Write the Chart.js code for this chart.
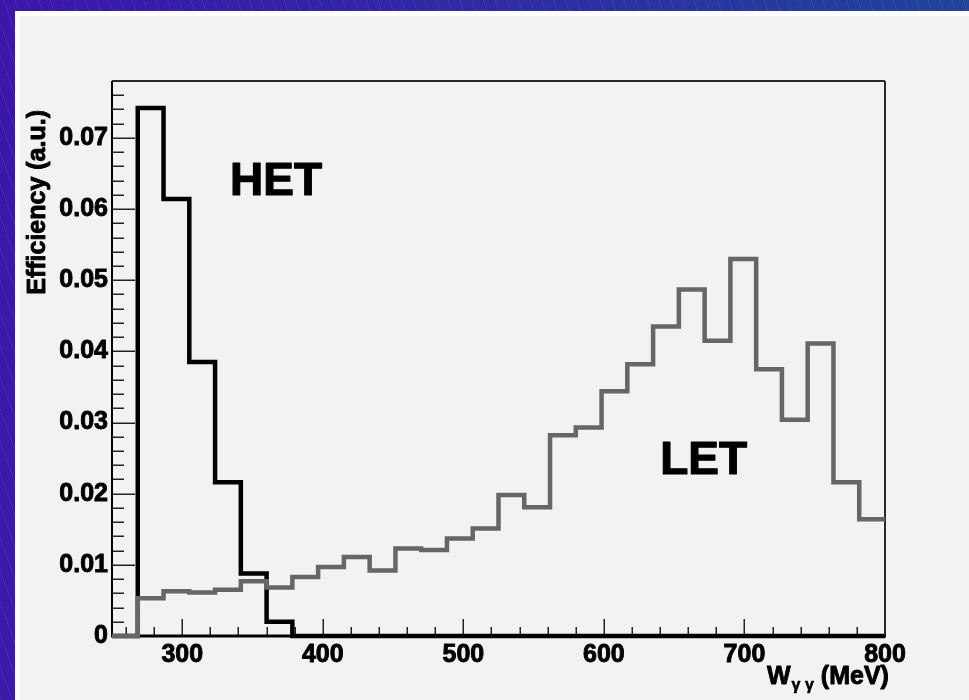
<!DOCTYPE html>
<html>
<head>
<meta charset="utf-8">
<title>Efficiency vs W</title>
<script src="https://cdn.jsdelivr.net/npm/chart.js@4.4.1/dist/chart.umd.min.js"></script>
<style>
  html, body { margin: 0; padding: 0; }
  body {
    position: relative;
    width: 969px;
    height: 700px;
    overflow: hidden;
    background:
      repeating-linear-gradient(70deg, rgba(255,255,255,0.07) 0 1px, transparent 1px 11px),
      linear-gradient(100deg, #3b16ab 0%, #2f2aa4 45%, #1c4a97 100%);
  }
  #panel {
    position: absolute;
    left: 15px;
    top: 11px;
    width: 954px;
    height: 689px;
    background: #ffffff;
  }
  #chart-wrap {
    position: absolute;
    left: 5px;
    top: 5px;
    width: 949px;
    height: 684px;
    background: #f2f2f2;
  }
</style>
</head>
<body>
<div id="panel">
  <div id="chart-wrap">
    <canvas id="effChart" width="949" height="684"></canvas>
  </div>
</div>

<script>
// Histogram range: 30 equal bins between 250 and 800 MeV
const xMin = 250;
const xMax = 800;
const yMax = 0.078;

// Bin contents, one per bin from low to high W
const hetEff = [
  0, 0.0742, 0.0614, 0.0385, 0.0216, 0.0088, 0.0020, 0, 0, 0,
  0, 0, 0, 0, 0, 0, 0, 0, 0, 0,
  0, 0, 0, 0, 0, 0, 0, 0, 0, 0
];
const letEff = [
  0, 0.0053, 0.0063, 0.0061, 0.0065, 0.0077, 0.0068, 0.0083, 0.0097, 0.0111,
  0.0092, 0.0123, 0.0121, 0.0137, 0.0151, 0.0198, 0.0181, 0.0282, 0.0293, 0.0344,
  0.0382, 0.0435, 0.0487, 0.0415, 0.0530, 0.0375, 0.0304, 0.0411, 0.0216, 0.0164
];

const xTickValues = [300, 400, 500, 600, 700, 800];
const yTickValues = [0, 0.01, 0.02, 0.03, 0.04, 0.05, 0.06, 0.07];
const yTickLabels = ["0", "0.01", "0.02", "0.03", "0.04", "0.05", "0.06", "0.07"];

const FONT = '"Liberation Sans", Arial, Helvetica, sans-serif';

// Turn bin contents into the points of a step outline (left edge of each bin + right end)
function outline(values) {
  const w = (xMax - xMin) / values.length;
  const pts = values.map((v, i) => ({ x: xMin + i * w, y: v }));
  pts.push({ x: xMax, y: values[values.length - 1] });
  return pts;
}

function line(ctx, x1, y1, x2, y2) {
  ctx.beginPath();
  ctx.moveTo(x1, y1);
  ctx.lineTo(x2, y2);
  ctx.stroke();
}

// filled + lightly stroked text, heavier like the tick labels
function boldText(ctx, str, x, y, stroke) {
  ctx.lineWidth = stroke;
  ctx.strokeText(str, x, y);
  ctx.fillText(str, x, y);
}

// Frame, inward tick marks, axis titles and the two curve labels
const framePlugin = {
  id: "frame",
  beforeDatasetsDraw(chart) {
    const { ctx, chartArea: a, scales: { x, y } } = chart;
    ctx.save();
    ctx.strokeStyle = "#222";
    ctx.lineWidth = 1.5;

    for (let v = 260; v < xMax; v += 20) {
      const px = Math.round(x.getPixelForValue(v)) + 0.25;
      const len = v % 100 === 0 ? 17 : 9;
      line(ctx, px, a.bottom, px, a.bottom - len);
    }
    for (let k = 1; k * 0.002 < yMax; k++) {
      const py = Math.round(y.getPixelForValue(k * 0.002)) + 0.25;
      const len = k % 5 === 0 ? 23 : 12;
      line(ctx, a.left, py, a.left + len, py);
    }

    ctx.strokeStyle = "#2a2a2a";
    ctx.lineWidth = 2;
    line(ctx, a.left, a.top, a.right, a.top);
    line(ctx, a.right, a.top, a.right, a.bottom);
    ctx.strokeStyle = "#000";
    line(ctx, a.left, a.top, a.left, a.bottom);
    ctx.lineWidth = 3;
    line(ctx, a.left - 1, a.bottom, a.right + 1, a.bottom);
    ctx.restore();
  },
  afterDraw(chart) {
    const { ctx, scales: { x, y } } = chart;
    ctx.save();
    ctx.fillStyle = "#000";
    ctx.strokeStyle = "#000";
    ctx.lineJoin = "round";
    ctx.textBaseline = "alphabetic";

    // curve labels
    ctx.font = "bold 46px " + FONT;
    ctx.textAlign = "left";
    boldText(ctx, "HET", x.getPixelForValue(334), y.getPixelForValue(0.062), 1.2);
    boldText(ctx, "LET", x.getPixelForValue(640), y.getPixelForValue(0.0227), 1.2);

    // x title: W with a gamma-gamma subscript
    let tx = 747;
    const base = 668;
    ctx.font = "bold 25px " + FONT;
    boldText(ctx, "W", tx, base, 0.9);
    tx += ctx.measureText("W").width;
    ctx.font = "bold 16px " + FONT;
    boldText(ctx, "\u03b3 \u03b3", tx + 1, base + 6, 0.6);
    tx += ctx.measureText("\u03b3 \u03b3").width + 8;
    ctx.font = "bold 25px " + FONT;
    boldText(ctx, "(MeV)", tx, base, 0.9);

    // y title, rotated, aligned to the top of the axis
    ctx.translate(25, 94);
    ctx.rotate(-Math.PI / 2);
    ctx.textAlign = "right";
    boldText(ctx, "Efficiency (a.u.)", 0, 0, 0.9);
    ctx.restore();
  }
};

const tickFont = { family: FONT, size: 25, weight: "bold" };

new Chart(document.getElementById("effChart"), {
  type: "line",
  data: {
    datasets: [
      {
        label: "LET",
        data: outline(letEff),
        stepped: true,
        borderColor: "#666666",
        borderWidth: 4.5,
        pointRadius: 0,
        fill: false,
        borderJoinStyle: "miter",
        borderCapStyle: "butt",
        clip: false,
        order: 0
      },
      {
        label: "HET",
        data: outline(hetEff),
        stepped: true,
        borderColor: "#000000",
        borderWidth: 4.5,
        pointRadius: 0,
        fill: false,
        borderJoinStyle: "miter",
        borderCapStyle: "butt",
        clip: false,
        order: 1
      }
    ]
  },
  options: {
    responsive: false,
    animation: false,
    devicePixelRatio: 1,
    layout: { padding: { top: 65, right: 84, left: 0, bottom: 0 } },
    plugins: {
      legend: { display: false },
      tooltip: { enabled: false }
    },
    scales: {
      x: {
        type: "linear",
        min: xMin,
        max: xMax,
        grid: { display: false, drawTicks: false },
        border: { display: false },
        afterBuildTicks: (scale) => {
          scale.ticks = xTickValues.map((v) => ({ value: v }));
        },
        afterFit: (scale) => { scale.height = 64; },
        ticks: {
          autoSkip: false,
          maxRotation: 0,
          padding: 4,
          color: "#000",
          textStrokeColor: "#000",
          textStrokeWidth: 0.9,
          font: tickFont,
          callback: (v) => String(v)
        }
      },
      y: {
        type: "linear",
        min: 0,
        max: yMax,
        grid: { display: false, drawTicks: false },
        border: { display: false },
        afterBuildTicks: (scale) => {
          scale.ticks = yTickValues.map((v) => ({ value: v }));
        },
        afterFit: (scale) => { scale.width = 92; },
        ticks: {
          padding: 4,
          color: "#000",
          textStrokeColor: "#000",
          textStrokeWidth: 0.9,
          font: tickFont,
          callback: (v) => yTickLabels[yTickValues.indexOf(v)] ?? ""
        }
      }
    }
  },
  plugins: [framePlugin]
});
</script>
</body>
</html>
